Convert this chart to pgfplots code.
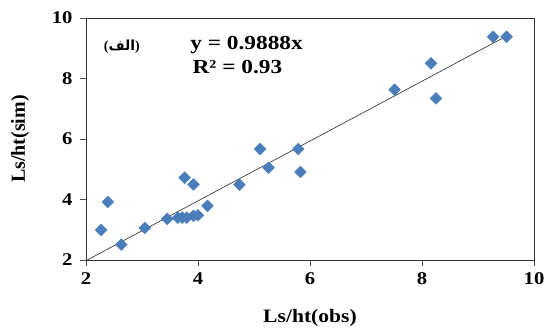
\documentclass[border=0pt]{standalone}
\usepackage{fontspec}
\setmainfont{Liberation Serif}
\newfontfamily\arabicfont[Script=Arabic]{DejaVu Sans}
\TeXXeTstate=1
\usepackage{pgfplots}
\pgfplotsset{compat=1.18}
\definecolor{ptblue}{RGB}{74,126,187}
\begin{document}
\begin{tikzpicture}
\begin{axis}[
  scale only axis,
  width=448bp, height=242bp,
  xmin=2, xmax=10, ymin=2, ymax=10,
  xtick={2,4,6,8,10}, ytick={2,4,6,8,10},
  tick align=outside,
  major tick length=6bp,
  xtick pos=bottom, ytick pos=left,
  axis line style={draw=black!80, line width=0.8pt},
  tick style={draw=black!70, line width=0.6pt},
  /pgf/number format/assume math mode=true,
  ticklabel style={font=\fontsize{18}{20}\selectfont\bfseries, xscale=1.15},
  xticklabel style={yshift=-3bp},
  yticklabel style={xshift=-3bp},
  xlabel={Ls/ht(obs)},
  ylabel={Ls/ht(sim)},
  xlabel style={font=\fontsize{19}{21}\selectfont\bfseries, xscale=1.14, at={(axis description cs:0.5,-0.24)}, anchor=center},
  ylabel style={font=\fontsize{20}{22}\selectfont\bfseries, at={(axis description cs:-0.147,0.5)}, anchor=center},
  clip=false,
]
\addplot[only marks, mark=square*, mark size=4.2bp, mark options={rotate=45, fill=ptblue, draw=ptblue}] coordinates {
(2.27,2.99) (2.39,3.92) (2.63,2.51) (3.05,3.06) (3.45,3.36)
(3.64,3.40) (3.72,3.40) (3.80,3.40) (3.92,3.46) (4.00,3.48)
(3.76,4.72) (3.92,4.50) (4.17,3.79) (4.74,4.49)
(5.11,5.67) (5.26,5.05) (5.79,5.67) (5.83,4.91)
(7.51,7.63) (8.16,8.50) (8.25,7.34) (9.27,9.38) (9.51,9.38)
};
\addplot[black!85, line width=0.6pt] coordinates {(2,1.9776) (9.52,9.4134)};
\node[font=\bfseries\fontsize{14}{16}\selectfont, inner sep=0pt] at (axis cs:2.64,9.04) {({\arabicfont\bfseries\beginR الف\endR})};
\node[anchor=west, align=left, font=\fontsize{20}{22}\selectfont\bfseries, xscale=1.17, inner sep=0pt] at (axis cs:3.86,9.11) {y = 0.9888x};
\node[anchor=west, align=left, font=\fontsize{20}{22}\selectfont\bfseries, xscale=1.17, inner sep=0pt] at (axis cs:3.90,8.38) {R² = 0.93};
\end{axis}
\pgfresetboundingbox
\useasboundingbox ([shift={(-86bp,-69bp)}]current axis.south west) rectangle ([shift={(14bp,18bp)}]current axis.north east);
\end{tikzpicture}
\end{document}
